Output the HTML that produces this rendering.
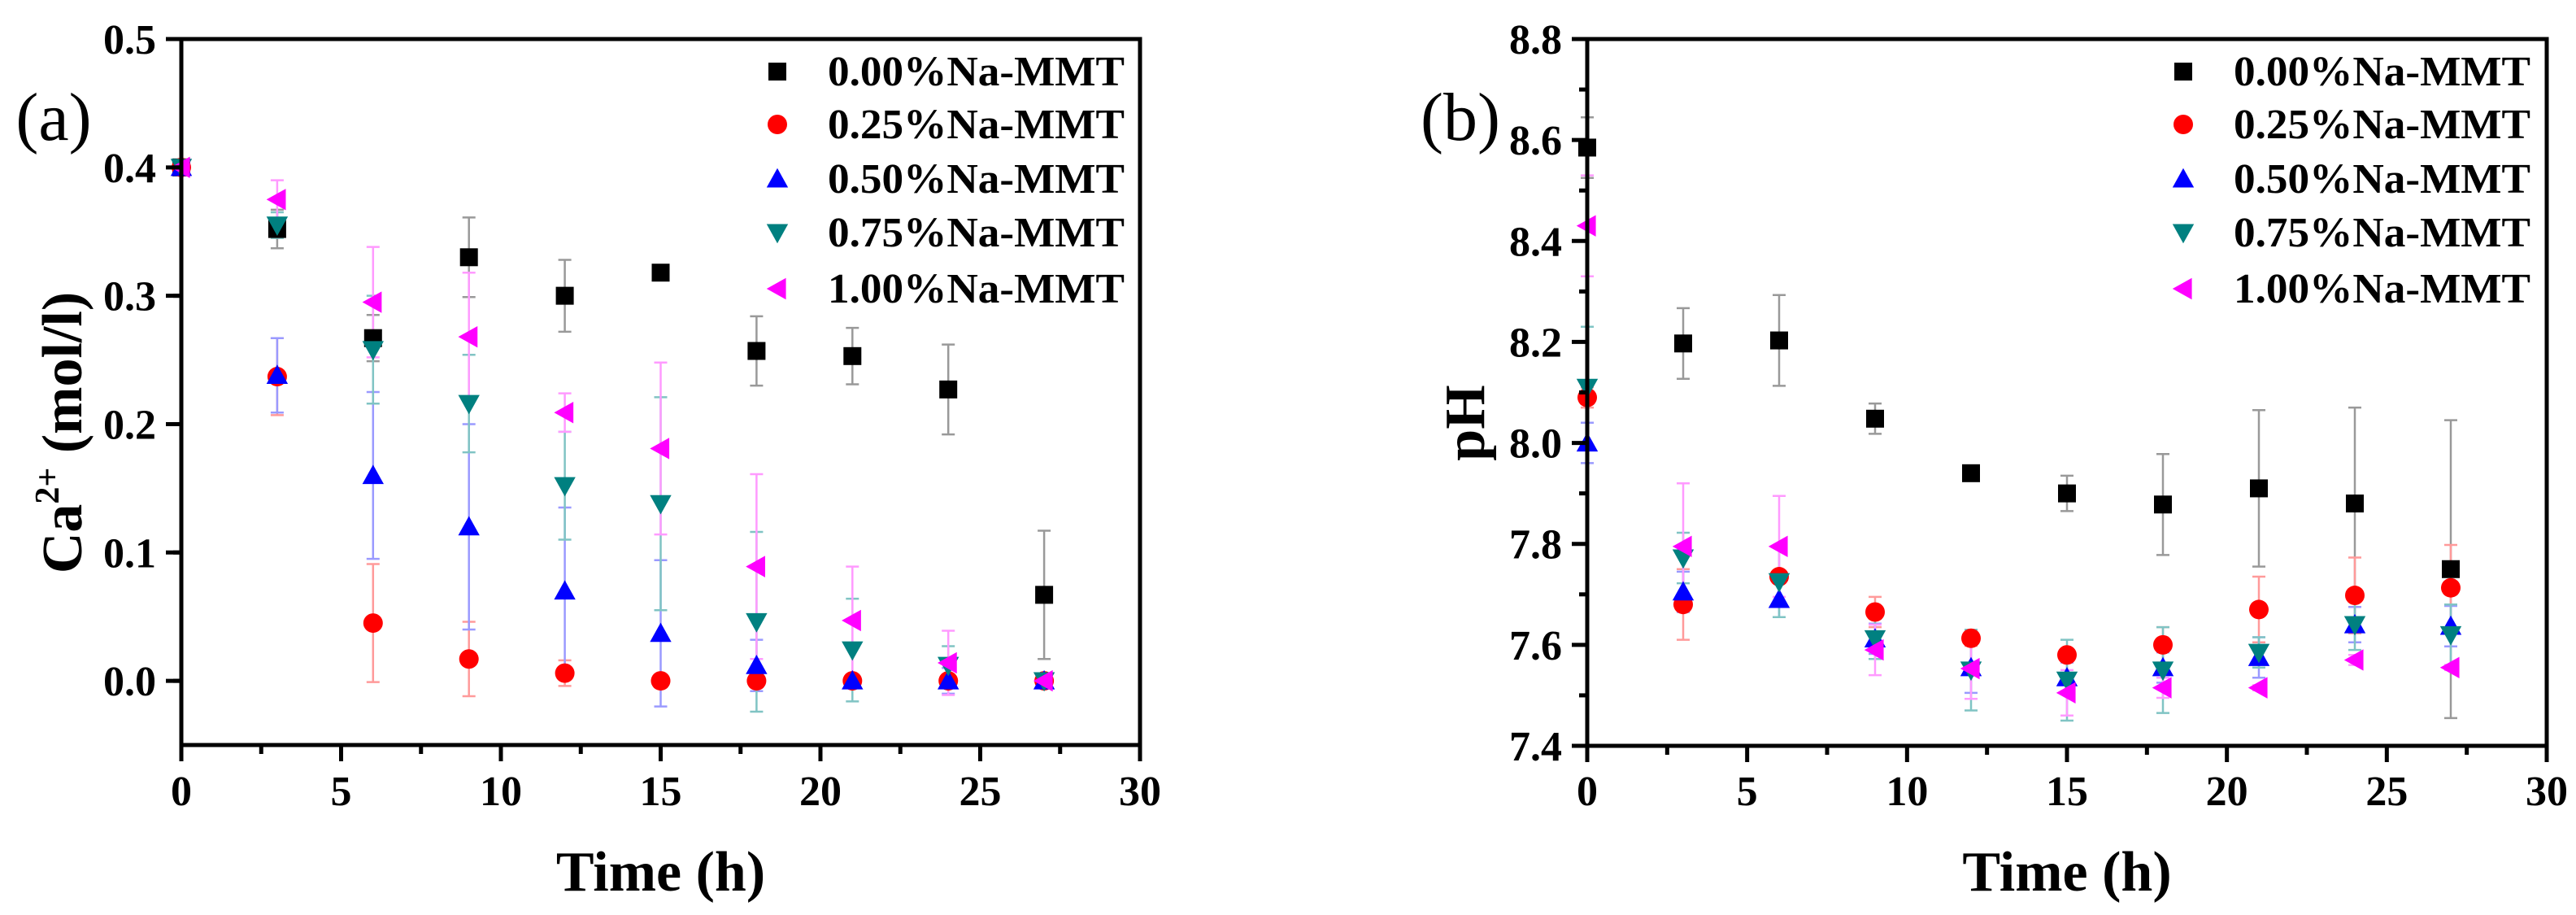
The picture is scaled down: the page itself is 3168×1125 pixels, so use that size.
<!DOCTYPE html>
<html><head><meta charset="utf-8"><style>
html,body{margin:0;padding:0;background:#fff;}
svg{display:block;}
svg text{font-family:"Liberation Serif","Times New Roman",Times,serif;}
</style></head><body>
<svg id="chart" width="3168" height="1125" viewBox="0 0 3168 1125" xmlns="http://www.w3.org/2000/svg" font-family="Liberation Serif, serif">
<rect width="3168" height="1125" fill="#fff"/>
</svg>
<script>
const times = [0,3,6,9,12,15,18,21,24,27];
const seriesNames = ["0.00%Na-MMT","0.25%Na-MMT","0.50%Na-MMT","0.75%Na-MMT","1.00%Na-MMT"];
// Panel (a) Ca2+
const caBlack = [0.400,0.352,0.267,0.330,0.300,0.318,0.257,0.253,0.227,0.067];
const caBlackErr = [0,0.015,0.018,0.031,0.028,0.005,0.027,0.022,0.035,0.050];
const caRed = [0.400,0.237,0.045,0.017,0.006,0,0,0,0,0];
const caRedErr = [0,0.030,0.046,0.029,0.010,0,0.003,0,0.005,0];
const caBlue = [0.400,0.238,0.160,0.120,0.070,0.037,0.012,0,0,0];
const caBlueErr = [0,0.029,0.065,0.080,0.065,0.057,0.020,0.005,0.010,0];
const caTeal = [0.400,0.355,0.258,0.216,0.152,0.138,0.046,0.024,0.012,0];
const caTealErr = [0,0.010,0.042,0.038,0.042,0.083,0.070,0.040,0.015,0];
const caPink = [0.400,0.375,0.295,0.268,0.209,0.181,0.089,0.047,0.014,0];
const caPinkErr = [0,0.015,0.043,0.050,0.015,0.067,0.072,0.042,0.025,0];
// Panel (b) pH
const phBlack = [8.585,8.197,8.203,8.048,7.940,7.900,7.878,7.910,7.880,7.750];
const phBlackErr = [0.060,0.070,0.090,0.030,0.005,0.035,0.100,0.155,0.190,0.295];
const phRed = [8.090,7.680,7.735,7.665,7.613,7.580,7.600,7.670,7.698,7.713];
const phRedErr = [0.02,0.070,0.010,0.030,0.015,0.010,0.035,0.065,0.075,0.085];
const phBlue = [8.000,7.705,7.690,7.612,7.555,7.535,7.555,7.575,7.640,7.637];
const phBlueErr = [0.040,0.040,0.035,0.030,0.050,0.030,0.030,0.040,0.035,0.040];
const phTeal = [8.110,7.772,7.725,7.612,7.550,7.530,7.550,7.585,7.640,7.620];
const phTealErr = [0.120,0.050,0.070,0.040,0.080,0.080,0.085,0.030,0.050,0.060];
const phPink = [8.430,7.795,7.795,7.590,7.553,7.505,7.515,7.515,7.570,7.555];
const phPinkErr = [0.100,0.125,0.100,0.050,0.060,0.045,0.020,0.005,0.010,0.005];
const xTicks = [0,5,10,15,20,25,30];
const caTicks = ["0.0","0.1","0.2","0.3","0.4","0.5"];
const phTicks = ["7.4","7.6","7.8","8.0","8.2","8.4","8.6","8.8"];

const NS="http://www.w3.org/2000/svg";
const FF="Liberation Serif, Times New Roman, serif";
const svg=document.getElementById('chart');
function mk(tag,attrs,parent){const e=document.createElementNS(NS,tag);for(const k in attrs)e.setAttribute(k,attrs[k]);if(tag==='text')e.setAttribute('font-family',FF);(parent||svg).appendChild(e);return e;}

const colors=["#000000","#ff0000","#0000ff","#008080","#ff00ff"];
const errColors=["#999999","#ff9a9a","#9a9aff","#80c4c4","#ff9aff"];
const shapes=["square","circle","up","down","left"];

function marker(g,shape,cx,cy,color,s){
  let e;
  if(shape==="square") e=mk('rect',{x:cx-s/2,y:cy-s/2,width:s,height:s,fill:color},g);
  else if(shape==="circle") e=mk('circle',{cx:cx,cy:cy,r:s/2+1,fill:color},g);
  else {
    const h=s*0.6; let p;
    if(shape==="up") p=[[cx,cy-h],[cx-h,cy+h*0.8],[cx+h,cy+h*0.8]];
    else if(shape==="down") p=[[cx,cy+h],[cx-h,cy-h*0.8],[cx+h,cy-h*0.8]];
    else p=[[cx-h,cy],[cx+h*0.8,cy-h],[cx+h*0.8,cy+h]];
    e=mk('polygon',{points:p.map(q=>q.join(',')).join(' '),fill:color},g);
  }
  return e;
}

function panel(cfg){
  const {x0,x1,yTop,yBot,ymin,ymax,yticks,ystep,minorStep,series,errs,label,ylab,ylabSup,legX,id}=cfg;
  const X=v=>x0+(v-0)/(30-0)*(x1-x0);
  const Y=v=>yBot-(v-ymin)/(ymax-ymin)*(yBot-yTop);
  const g=mk('g',{});
  
  
  series.forEach((arr,si)=>{
    const sg=mk('g',{},g);
    
    
    arr.forEach((v,i)=>{
      const e=errs[si][i];
      const cx=X(times[i]);
      if(e>0){
        const eb=mk('path',{d:`M${cx},${Y(v+e)}V${Y(v-e)}M${cx-8},${Y(v+e)}h16M${cx-8},${Y(v-e)}h16`,stroke:errColors[si],'stroke-width':2.5,fill:'none'},sg);
        
        
      }
    });
  });
  series.forEach((arr,si)=>{
    arr.forEach((v,i)=>{
      const m=marker(g,shapes[si],X(times[i]),Y(v),colors[si],22);
      
      
    });
  });
  const fr=mk('rect',{x:x0,y:yTop,width:x1-x0,height:yBot-yTop,fill:'none',stroke:'#000','stroke-width':5},g);
  
  
  xTicks.forEach(t=>{
    mk('line',{x1:X(t),x2:X(t),y1:yBot,y2:yBot+20,stroke:'#000','stroke-width':5},g);
    const tl=mk('text',{x:X(t),y:990,'font-size':52,'font-weight':'bold','text-anchor':'middle'},g);
    tl.textContent=t;
    
    
  });
  for(let t=2.5;t<30;t+=5) mk('line',{x1:X(t),x2:X(t),y1:yBot,y2:yBot+11,stroke:'#000','stroke-width':5},g);
  yticks.forEach((lab,i)=>{
    const v=ymin+ystep*i+(cfg.yOffset||0);
    const yy=Y(v);
    mk('line',{x1:x0-19,x2:x0,y1:yy,y2:yy,stroke:'#000','stroke-width':5},g);
    const tl=mk('text',{x:x0-31,y:yy+18,'font-size':52,'font-weight':'bold','text-anchor':'end'},g);
    tl.textContent=lab;
    
    
  });
  for(let v=ymin+minorStep;v<ymax;v+=minorStep*2){
    mk('line',{x1:x0-10,x2:x0,y1:Y(v),y2:Y(v),stroke:'#000','stroke-width':5},g);
  }
  const xt=mk('text',{x:(x0+x1)/2,y:1095,'font-size':70,'font-weight':'bold','text-anchor':'middle'},g);
  xt.textContent='Time (h)';
  
  
  const yt=mk('text',{x:0,y:0,'font-size':70,'font-weight':'bold','text-anchor':'middle',transform:`translate(${cfg.ylabX},${cfg.ylabY}) rotate(-90)`},g);
  
  
  if(ylabSup){
    const a=mk('tspan',{},yt);a.textContent='Ca';
    const b=mk('tspan',{dy:-28,'font-size':42},yt);b.textContent='2+';
    const c=mk('tspan',{dy:28},yt);c.textContent=' (mol/l)';
  } else yt.textContent=ylab;
  const pl=mk('text',{x:cfg.plX,y:172,'font-size':84,'text-anchor':'middle'},g);
  pl.textContent=label;
  
  
  const legY=[105,170,237,303,372];
  seriesNames.forEach((n,i)=>{
    const lg=mk('g',{},g);
    
    
    marker(lg,shapes[i],legX,legY[i]-17,colors[i],22);
    const t=mk('text',{x:legX+62,y:legY[i],'font-size':52,'font-weight':'bold',textLength:365,lengthAdjust:'spacingAndGlyphs'},lg);
    t.textContent=n;
  });
}

panel({id:'ca',x0:223,x1:1402,yTop:48,yBot:916,ymin:-0.05,ymax:0.5,yticks:caTicks,ystep:0.1,yOffset:0.05,minorStep:0.05,
  series:[caBlack,caRed,caBlue,caTeal,caPink],errs:[caBlackErr,caRedErr,caBlueErr,caTealErr,caPinkErr],
  label:'(a)',ylabSup:true,ylabX:100,ylabY:532,legX:956,plX:66});
panel({id:'ph',x0:1952,x1:3132,yTop:48,yBot:917,ymin:7.4,ymax:8.8,yticks:phTicks,ystep:0.2,yOffset:0,minorStep:0.1,
  series:[phBlack,phRed,phBlue,phTeal,phPink],errs:[phBlackErr,phRedErr,phBlueErr,phTealErr,phPinkErr],
  label:'(b)',ylab:'pH',ylabX:1825,ylabY:520,legX:2685,plX:1796});
</script>
</body></html>
